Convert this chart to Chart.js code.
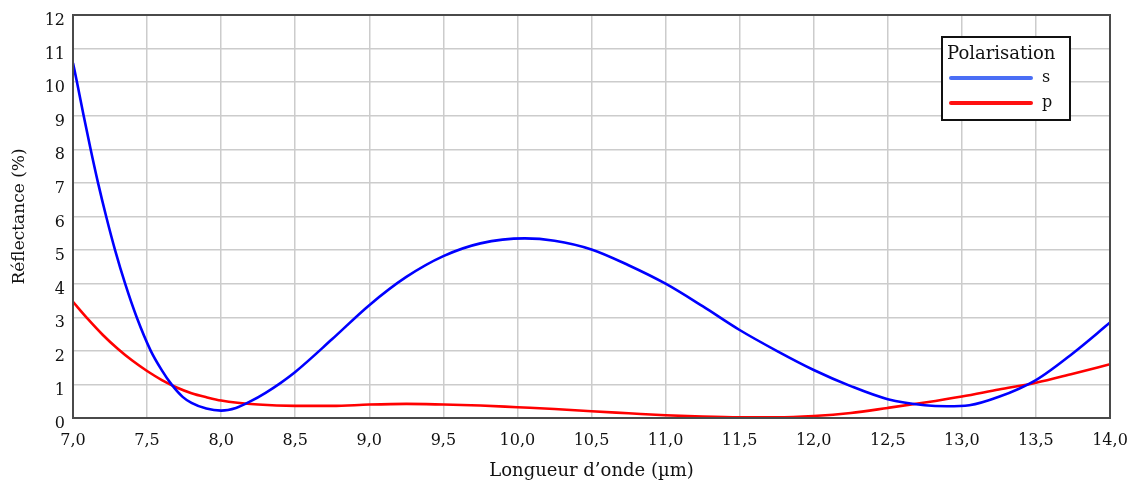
<!DOCTYPE html>
<html lang="fr">
<head>
<meta charset="utf-8">
<title>Réflectance</title>
<script src="https://cdn.jsdelivr.net/npm/chart.js@4.4.1/dist/chart.umd.min.js"></script>
<style>
    html, body { margin: 0; padding: 0; background: #ffffff; }
    #wrap { width: 1128px; height: 482px; position: relative; }
</style>
</head>
<body>
<div id="wrap"><canvas id="reflectanceChart"></canvas></div>
<script>
// Wavelengths (µm) and reflectance (%)
const sWavelengths = [7.0, 7.027, 7.072, 7.119, 7.169, 7.224, 7.284, 7.352, 7.43, 7.525, 7.6, 7.665, 7.74, 7.8, 7.9, 8.0, 8.1, 8.2, 8.3, 8.4, 8.5, 8.75, 9.0, 9.25, 9.5, 9.75, 10.05, 10.25, 10.5, 10.75, 11.0, 11.25, 11.5, 11.75, 12.0, 12.25, 12.5, 12.75, 12.9, 13.05, 13.25, 13.5, 13.75, 14.0];
const sValues = [10.57, 10.0, 9.0, 8.0, 7.0, 6.0, 5.0, 4.0, 3.0, 2.0, 1.42, 1.0, 0.63, 0.45, 0.28, 0.22, 0.3, 0.5, 0.75, 1.04, 1.37, 2.35, 3.36, 4.2, 4.82, 5.2, 5.35, 5.28, 5.02, 4.55, 4.0, 3.33, 2.62, 2.0, 1.43, 0.95, 0.56, 0.38, 0.35, 0.38, 0.63, 1.13, 1.93, 2.84];

const pWavelengths = [7.0, 7.1, 7.2, 7.3, 7.4, 7.5, 7.6, 7.7, 7.8, 7.9, 8.0, 8.25, 8.5, 8.75, 9.0, 9.25, 9.5, 9.75, 10.0, 10.25, 10.5, 10.75, 11.0, 11.25, 11.5, 11.75, 12.0, 12.25, 12.5, 12.75, 13.0, 13.25, 13.5, 13.75, 14.0];
const pValues = [3.46, 2.95, 2.48, 2.07, 1.71, 1.4, 1.13, 0.91, 0.74, 0.62, 0.52, 0.4, 0.36, 0.36, 0.4, 0.42, 0.4, 0.37, 0.32, 0.27, 0.2, 0.14, 0.08, 0.04, 0.02, 0.02, 0.06, 0.15, 0.3, 0.46, 0.64, 0.85, 1.05, 1.32, 1.6];

const seriesLabels = ['s', 'p'];
const legendTitle = 'Polarisation';
const xTitle = 'Longueur d\u2019onde (\u00b5m)';
const yTitle = 'Réflectance (%)';

const FONT = '"DejaVu Serif", "Liberation Serif", serif';
const TEXT_COLOR = '#111111';

document.addEventListener('DOMContentLoaded', function () {
    const ctx = document.getElementById('reflectanceChart').getContext('2d');

    function toPoints(xs, ys) {
        return xs.map((x, i) => ({ x: x, y: ys[i] }));
    }

    // frame around the plot area + boxed legend
    const framePlugin = {
        id: 'frame',
        afterDatasetsDraw(chart) {
            const { ctx, chartArea } = chart;
            ctx.save();
            ctx.strokeStyle = '#4a4a4a';
            ctx.lineWidth = 2;
            ctx.strokeRect(chartArea.left, chartArea.top, chartArea.right - chartArea.left, chartArea.bottom - chartArea.top);

            // legend box
            const bx = chartArea.right - 168, by = chartArea.top + 22, bw = 128, bh = 83;
            ctx.fillStyle = '#ffffff';
            ctx.fillRect(bx, by, bw, bh);
            ctx.strokeStyle = '#111111';
            ctx.lineWidth = 2;
            ctx.strokeRect(bx, by, bw, bh);

            ctx.fillStyle = TEXT_COLOR;
            ctx.font = '18px ' + FONT;
            ctx.textBaseline = 'middle';
            ctx.textAlign = 'left';
            ctx.fillText(legendTitle, bx + 5, by + 17);

            const legendColors = ['#4a6ef5', '#ff1010'];
            chart.data.datasets.forEach((ds, i) => {
                const ly = by + 41 + i * 25;
                ctx.strokeStyle = legendColors[i];
                ctx.lineWidth = 4;
                ctx.lineCap = 'round';
                ctx.beginPath();
                ctx.moveTo(bx + 9, ly);
                ctx.lineTo(bx + 89, ly);
                ctx.stroke();
                ctx.font = '16px ' + FONT;
                ctx.fillText(ds.label, bx + 100, ly);
            });
            ctx.restore();
        }
    };

    const chartConfig = {
        type: 'line',
        data: {
            datasets: [
                {
                    label: seriesLabels[0],
                    data: toPoints(sWavelengths, sValues),
                    borderColor: '#0000ff',
                    borderWidth: 2.6,
                    pointRadius: 0,
                    cubicInterpolationMode: 'monotone'
                },
                {
                    label: seriesLabels[1],
                    data: toPoints(pWavelengths, pValues),
                    borderColor: '#ff0000',
                    borderWidth: 2.6,
                    pointRadius: 0,
                    cubicInterpolationMode: 'monotone'
                }
            ]
        },
        options: {
            responsive: true,
            maintainAspectRatio: false,
            animation: false,
            layout: {
                padding: { top: 15, right: 18, left: 0, bottom: 0 }
            },
            scales: {
                x: {
                    type: 'linear',
                    min: 7,
                    max: 14,
                    afterFit: function (scale) {
                        scale.height = 64;
                        scale.paddingLeft = 0;
                        scale.paddingRight = 0;
                    },
                    ticks: {
                        stepSize: 0.5,
                        padding: 13,
                        color: TEXT_COLOR,
                        font: { family: FONT, size: 16 },
                        maxRotation: 0,
                        callback: function (value) {
                            return value.toFixed(1).replace('.', ',');
                        }
                    },
                    grid: { color: '#cccccc', lineWidth: 1.5, drawTicks: false },
                    border: { display: false },
                    title: {
                        display: true,
                        text: xTitle,
                        color: TEXT_COLOR,
                        font: { family: FONT, size: 18 },
                        padding: { top: 0, bottom: 0 }
                    }
                },
                y: {
                    min: 0,
                    max: 12,
                    afterFit: function (scale) {
                        scale.width = 73;
                        scale.paddingTop = 0;
                        scale.paddingBottom = 0;
                    },
                    ticks: {
                        stepSize: 1,
                        padding: 8,
                        labelOffset: 6,
                        color: TEXT_COLOR,
                        font: { family: FONT, size: 16 }
                    },
                    grid: { color: '#cccccc', lineWidth: 1.5, drawTicks: false },
                    border: { display: false },
                    title: {
                        display: true,
                        text: yTitle,
                        color: TEXT_COLOR,
                        font: { family: FONT, size: 17 },
                        padding: { top: 9, bottom: 0 }
                    }
                }
            },
            plugins: {
                legend: { display: false },
                tooltip: { enabled: false }
            }
        },
        plugins: [framePlugin]
    };

    new Chart(ctx, chartConfig);
});
</script>
</body>
</html>
